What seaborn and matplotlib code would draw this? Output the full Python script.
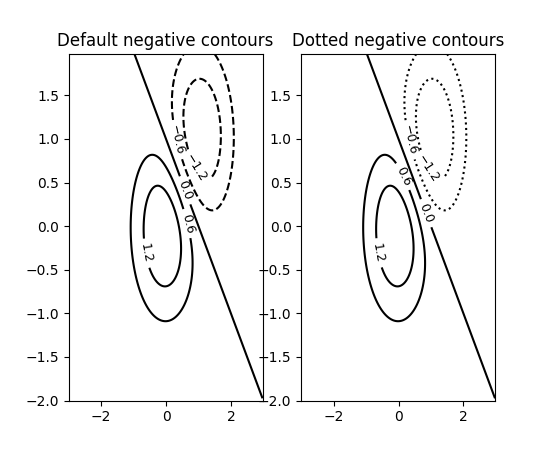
import numpy as np
import matplotlib
matplotlib.use("Agg")
import matplotlib.pyplot as plt
import seaborn as sns

# two gaussian bumps: one positive at the origin, one negative at (1, 1)
bump_x = [0.0, 1.0]
bump_y = [0.0, 1.0]
bump_height = [2.0, -2.0]
levels = [-1.2, -0.6, 0.0, 0.6, 1.2]
titles = ["Default negative contours", "Dotted negative contours"]
neg_styles = [None, "dotted"]

# where the inline labels sit in each panel
label_spots = [
    [(0.32, 0.99), (0.92, 0.67), (0.58, 0.41), (0.65, 0.03), (-0.60, -0.31)],
    [(0.35, 0.99), (0.91, 0.66), (0.14, 0.57), (0.86, 0.15), (-0.66, -0.31)],
]

sns.reset_orig()

# grid
x = np.arange(-3.0, 3.0, 0.025)
y = np.arange(-2.0, 2.0, 0.025)
X, Y = np.meshgrid(x, y)
Z = np.zeros_like(X)
for cx, cy, h in zip(bump_x, bump_y, bump_height):
    Z += h * np.exp(-(X - cx) ** 2 - (Y - cy) ** 2)

fig, axes = plt.subplots(ncols=2, figsize=(5.5, 4.5), dpi=100)
for ax, title, ls, spots in zip(axes, titles, neg_styles, label_spots):
    CS = ax.contour(X, Y, Z, levels=levels, colors="k", negative_linestyles=ls)
    ax.clabel(CS, fontsize=9, inline=True, manual=spots)
    ax.set_title(title)

fig.savefig("out.png", dpi=100)
